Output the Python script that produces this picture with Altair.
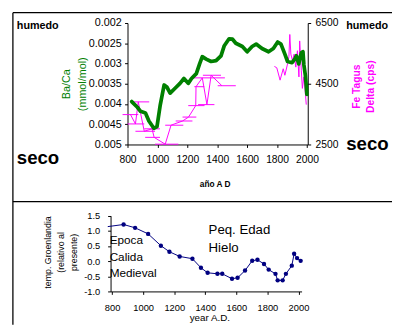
import altair as alt
import pandas as pd

FONT = "Liberation Sans"

# ---------------- data ----------------
baca_year = [828, 866, 887, 920, 943, 976, 997, 1019, 1045, 1063, 1085, 1118, 1151, 1177, 1206, 1228,
             1260, 1282, 1300, 1326, 1359, 1392, 1425, 1447, 1479, 1502, 1524, 1568, 1600, 1633, 1660,
             1699, 1743, 1775, 1804, 1826, 1852, 1870, 1900, 1918, 1929, 1945, 1962, 1973, 1979, 1989,
             1995, 1999]
baca_val = [0.00394, 0.00408, 0.00418, 0.00422, 0.00442, 0.0046, 0.00456, 0.00402, 0.00353, 0.00358,
            0.00373, 0.00361, 0.00349, 0.00337, 0.00349, 0.00337, 0.00325, 0.00301, 0.00283, 0.00289,
            0.00295, 0.00293, 0.00281, 0.00256, 0.00239, 0.0024, 0.0025, 0.00258, 0.00271, 0.00258,
            0.00252, 0.00263, 0.00271, 0.00263, 0.00247, 0.00252, 0.00277, 0.00295, 0.00298, 0.00289,
            0.00281, 0.00301, 0.00273, 0.00271, 0.00303, 0.00329, 0.00355, 0.00376]

fe_bar_year = [820, 853, 872, 912, 964, 978, 1052, 1091, 1168, 1208, 1256, 1258, 1300, 1331, 1359, 1431]
fe_bar_val = [3484, 3177, 3903, 2935, 3016, 2735, 2510, 3135, 3274, 3403, 3780, 4403, 4694, 3813, 4780, 4435]
fe_bar_lo = [767, 800, 833, 853, 912, 918, 984, 1052, 1122, 1168, 1206, 1247, 1241, 1272, 1304, 1403]
fe_bar_hi = [872, 912, 945, 984, 1017, 1017, 1140, 1173, 1234, 1260, 1315, 1313, 1451, 1381, 1425, 1524]

fe_late_year = [1782, 1798, 1820, 1841, 1852, 1870, 1879, 1885, 1892, 1903, 1914, 1925, 1936, 1946,
                1951, 1962, 1969, 1979, 1989, 1995]
fe_late_val = [5071, 5026, 4619, 4994, 4780, 5155, 5394, 6123, 5477, 5264, 5477, 5048, 5587, 4726,
               5910, 4942, 4348, 4726, 4187, 3813]

temp_year = [772, 874, 948, 1032, 1114, 1169, 1235, 1317, 1372, 1415, 1478, 1509, 1572, 1608, 1656,
             1702, 1736, 1778, 1808, 1852, 1866, 1898, 1919, 1957, 1972, 1991, 2014]
temp_val = [1.14, 1.21, 1.10, 0.90, 0.51, 0.31, 0.155, 0.08, -0.22, -0.385, -0.418, -0.418, -0.58,
            -0.55, -0.31, 0.012, 0.045, -0.094, -0.28, -0.42, -0.635, -0.635, -0.42, -0.15, 0.245,
            0.10, 0.01]
temp_marker = [False] + [True] * 26

top_year_ticks = [800, 1000, 1200, 1400, 1600, 1800, 2000]
baca_ticks = [0.002, 0.0025, 0.003, 0.0035, 0.004, 0.0045, 0.005]
fe_ticks = [2500, 4500, 6500]
temp_ticks = [-1.0, -0.5, 0.0, 0.5, 1.0, 1.5]

side_text = ["humedo", "seco", "humedo", "seco"]
side_year = [60, 60, 2262, 2262]
side_val = [0.0020726, 0.005339, 0.0020653, 0.004983]
side_size = [11, 19, 11, 19]

note_text = ["Epoca", "Calida", "Medieval", "Peq. Edad", "Hielo"]
note_year = [784, 784, 784, 1421, 1421]
note_val = [0.69, 0.132, -0.408, 1.015, 0.423]
note_size = [12, 12, 12, 13.5, 13.5]

# ---------------- tables ----------------
df_baca = pd.DataFrame({"year": baca_year, "baca": baca_val})
df_bars = pd.DataFrame({"year": fe_bar_year, "fe": fe_bar_val, "lo": fe_bar_lo, "hi": fe_bar_hi})
df_fe = pd.concat([
    pd.DataFrame({"year": fe_bar_year, "fe": fe_bar_val, "seg": "a"}),
    pd.DataFrame({"year": fe_late_year, "fe": fe_late_val, "seg": "b"}),
])
df_temp = pd.DataFrame({"year": temp_year, "t": temp_val, "m": temp_marker})
df_temp_pts = df_temp[df_temp["m"]]
df_side = pd.DataFrame({"label": side_text, "year": side_year, "v": side_val, "s": side_size})
df_note = pd.DataFrame({"label": note_text, "year": note_year, "v": note_val, "s": note_size})
df_one = pd.DataFrame({"k": [0]})

W, H = 392, 320


def top_x():
    return alt.Scale(domain=[800, 2005], range=[122, 306], nice=False, zero=False)


def top_bac():
    return alt.Scale(domain=[0.002, 0.005], range=[12, 136], nice=False, zero=False)


def top_fe():
    return alt.Scale(domain=[2500, 6500], range=[136, 12], nice=False, zero=False)


def bot_x():
    return alt.Scale(domain=[790, 2020], range=[104.7, 299.7], nice=False, zero=False)


def bot_y():
    return alt.Scale(domain=[-1, 1.5], range=[286, 208.7], nice=False, zero=False)


common_axis = dict(grid=False, labelFont=FONT, labelColor="black", domainColor="black",
                   tickColor="black", tickSize=3, labelFlush=False, labelOverlap=False,
                   titleFont=FONT)

# ---------------- layers ----------------
frame = alt.Chart(df_one).mark_rule(color="black", strokeWidth=1.3)
frame_top = frame.encode(x=alt.value(5), x2=alt.value(W), y=alt.value(1.5))
frame_left = frame.encode(x=alt.value(5), y=alt.value(1.5), y2=alt.value(H))
frame_mid = frame.encode(x=alt.value(5), x2=alt.value(W), y=alt.value(194.3))

bars = alt.Chart(df_bars).mark_rule(color="#ff00ff", strokeWidth=1).encode(
    x=alt.X("lo:Q", scale=top_x(), axis=None),
    x2="hi:Q",
    y=alt.Y("fe:Q", scale=top_fe(), axis=None),
)

fe_line = alt.Chart(df_fe).mark_line(color="#ff00ff", strokeWidth=1).encode(
    x=alt.X("year:Q", scale=top_x(), axis=None),
    y=alt.Y("fe:Q", scale=top_fe(), axis=alt.Axis(
        orient="right", offset=306 - W, values=fe_ticks, format="d",
        labelFontSize=10.5, labelPadding=4.5,
        title=["Fe Tagus", "Delta (cps)"], titleColor="#ff00ff", titleFontSize=10.5,
        titleFontWeight="bold", titleAngle=270, titleX=50, titleY=76.5,
        titleBaseline="middle", titleAlign="center", titleLineHeight=14, **common_axis)),
    detail="seg:N",
)

green = alt.Chart(df_baca).mark_line(color="#008000", strokeWidth=3.8, strokeJoin="round",
                                     strokeCap="round").encode(
    x=alt.X("year:Q", scale=top_x(), axis=alt.Axis(
        orient="bottom", offset=136 - H, values=top_year_ticks, format="d",
        labelFontSize=10.5, labelPadding=7,
        title="año A D", titleFontSize=8.5, titleFontWeight="bold", titleColor="black",
        titleX=211, titleY=40, titleBaseline="middle", titleAlign="center", **common_axis)),
    y=alt.Y("baca:Q", scale=top_bac(), axis=alt.Axis(
        orient="left", offset=-122, values=baca_ticks, format="~g",
        labelFontSize=11, labelPadding=3.5,
        title=["Ba/Ca", "(mmol/mol)"], titleColor="#008000", titleFontSize=11,
        titleFontWeight="normal", titleAngle=270, titleX=-62.5, titleY=74,
        titleBaseline="middle", titleAlign="center", titleLineHeight=16.5, **common_axis)),
)

temp_line = alt.Chart(df_temp).mark_line(color="#000080", strokeWidth=1).encode(
    x=alt.X("year:Q", scale=bot_x(), axis=alt.Axis(
        orient="bottom", offset=286 - H, values=top_year_ticks, format="d",
        labelFontSize=9.5, labelPadding=8.5,
        title="year A.D.", titleFontSize=10, titleFontWeight="normal", titleColor="black",
        titleX=205.5, titleY=27, titleBaseline="middle", titleAlign="center", **common_axis)),
    y=alt.Y("t:Q", scale=bot_y(), axis=alt.Axis(
        orient="left", offset=-104.7, values=temp_ticks,
        labelExpr="datum.value < 0 ? '-' + format(-datum.value, '.1f') : format(datum.value, '.1f')",
        labelFontSize=9.5, labelPadding=8,
        title=["temp. Groenlandia", "(relativo al", "presente)"], titleColor="black",
        titleFontSize=9, titleFontWeight="normal", titleAngle=270, titleX=-64, titleY=245.7,
        titleBaseline="middle", titleAlign="center", titleLineHeight=12.9, **common_axis)),
)

temp_pts = alt.Chart(df_temp_pts).mark_circle(color="#000080", opacity=1, size=20).encode(
    x=alt.X("year:Q", scale=bot_x(), axis=None),
    y=alt.Y("t:Q", scale=bot_y(), axis=None),
)

side_labels = alt.Chart(df_side).mark_text(font=FONT, fontWeight="bold", align="left",
                                           baseline="middle", color="black").encode(
    x=alt.X("year:Q", scale=top_x(), axis=None),
    y=alt.Y("v:Q", scale=top_bac(), axis=None),
    text="label:N",
    size=alt.Size("s:Q", scale=None),
)

note_labels = alt.Chart(df_note).mark_text(font=FONT, align="left", baseline="middle",
                                           color="black").encode(
    x=alt.X("year:Q", scale=bot_x(), axis=None),
    y=alt.Y("v:Q", scale=bot_y(), axis=None),
    text="label:N",
    size=alt.Size("s:Q", scale=None),
)

chart = alt.layer(
    frame_top, frame_left, frame_mid,
    bars, fe_line, green,
    temp_line, temp_pts,
    side_labels, note_labels,
).resolve_scale(
    x="independent", y="independent"
).resolve_axis(
    x="independent", y="independent"
).properties(
    width=W, height=H, padding=0,
    autosize=alt.AutoSizeParams(type="none"),
).configure_view(stroke=None)

chart.save("out.html", embed_options={"renderer": "svg", "actions": False})
